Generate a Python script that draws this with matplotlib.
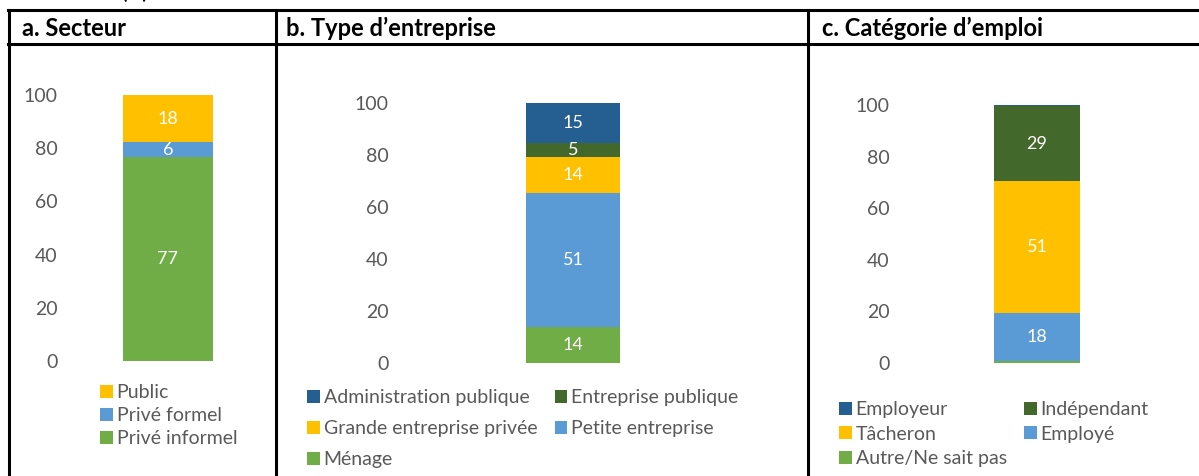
import matplotlib
matplotlib.use('Agg')
import matplotlib.pyplot as plt
from matplotlib.lines import Line2D
from matplotlib.patches import Patch

plt.rcParams['font.family'] = ['Lato', 'DejaVu Sans']

W, H = 1199, 476

# --- data ---
sect_labels = ['Privé informel', 'Privé formel', 'Public']
sect_values = [76.7, 5.6, 17.7]
sect_colors = ['#70AD47', '#5B9BD5', '#FFC000']

ent_labels = ['Ménage', 'Petite entreprise', 'Grande entreprise privée',
              'Entreprise publique', 'Administration publique']
ent_values = [13.9, 51.3, 14.0, 5.4, 15.4]
ent_colors = ['#70AD47', '#5B9BD5', '#FFC000', '#43682B', '#255E91']

emp_labels = ['Autre/Ne sait pas', 'Employé', 'Tâcheron', 'Indépendant', 'Employeur']
emp_values = [0.8, 18.4, 51.2, 29.2, 0.4]
emp_colors = ['#70AD47', '#5B9BD5', '#FFC000', '#43682B', '#255E91']

yticks = [0, 20, 40, 60, 80, 100]
headers = ['a. Secteur', 'b. Type d\u2019entreprise', 'c. Catégorie d\u2019emploi']

GREY = '#595959'


def px_box(x0, x1, ytop, ybot):
    return [x0 / W, 1 - ybot / H, (x1 - x0) / W, (ybot - ytop) / H]


def stacked(ax, labels, values, colors, pad, min_label=3):
    bottom = 0
    for lab, v, c in zip(labels, values, colors):
        bars = ax.bar(0, v, width=1, bottom=bottom, color=c, linewidth=0, label=lab)
        if v >= min_label:
            ax.bar_label(bars, labels=[f'{v:.0f}'], label_type='center',
                         color='white', fontsize=13)
        bottom += v
    ax.set_xlim(-0.5, 0.5)
    ax.set_ylim(0, 100)
    ax.set_yticks(yticks)
    ax.set_xticks([])
    for s in ax.spines.values():
        s.set_visible(False)
    ax.tick_params(axis='y', length=0, pad=pad, labelcolor=GREY, labelsize=14)
    ax.patch.set_alpha(0)


def legend(ax, labels, colors, order, anchor, ncol=1, spacing=0.31):
    handles = [Patch(facecolor=colors[i], edgecolor='none', label=labels[i]) for i in order]
    leg = ax.legend(handles=handles, loc='upper left',
                    bbox_to_anchor=(anchor[0] / W, 1 - anchor[1] / H),
                    bbox_transform=fig.transFigure, ncol=ncol, frameon=False,
                    borderaxespad=0, borderpad=0, handlelength=0.65, handleheight=0.65,
                    handletextpad=0.2, labelspacing=spacing, columnspacing=0.9,
                    fontsize=14)
    for t in leg.get_texts():
        t.set_color(GREY)
    return leg


fig = plt.figure(figsize=(W / 100, H / 100), dpi=100)

# table frame
lw = 2.2
for y in (10, 44):
    fig.add_artist(Line2D([8 / W, 1], [1 - y / H, 1 - y / H], color='black', lw=lw,
                          transform=fig.transFigure))
for x in (9, 276, 808):
    fig.add_artist(Line2D([x / W, x / W], [1 - 10 / H, 0], color='black', lw=lw,
                          transform=fig.transFigure))

# cut-off figure title above the table
fig.text(121 / W, 1 + 1 / H, '(%)', fontsize=14, fontweight='bold', va='baseline')

for x, txt in zip((22, 286, 822), headers):
    fig.text(x / W, 1 - 28 / H, txt, fontsize=17, fontweight='bold', va='center')

# a. Secteur
ax1 = fig.add_axes(px_box(123, 213, 95, 361))
stacked(ax1, sect_labels, sect_values, sect_colors, pad=47)
legend(ax1, sect_labels, sect_colors, [2, 1, 0], (100, 384))

# b. Type d'entreprise
ax2 = fig.add_axes(px_box(526, 620, 103, 363))
stacked(ax2, ent_labels, ent_values, ent_colors, pad=99)
legend(ax2, ent_labels, ent_colors, [4, 2, 0, 3, 1], (307, 389), ncol=2, spacing=0.72)

# c. Catégorie d'emploi
ax3 = fig.add_axes(px_box(994, 1080, 105, 363))
stacked(ax3, emp_labels, emp_values, emp_colors, pad=75)
legend(ax3, emp_labels, emp_colors, [4, 2, 0, 3, 1], (839, 401), spacing=0.39, ncol=2)

fig.savefig('out.png', dpi=100)
